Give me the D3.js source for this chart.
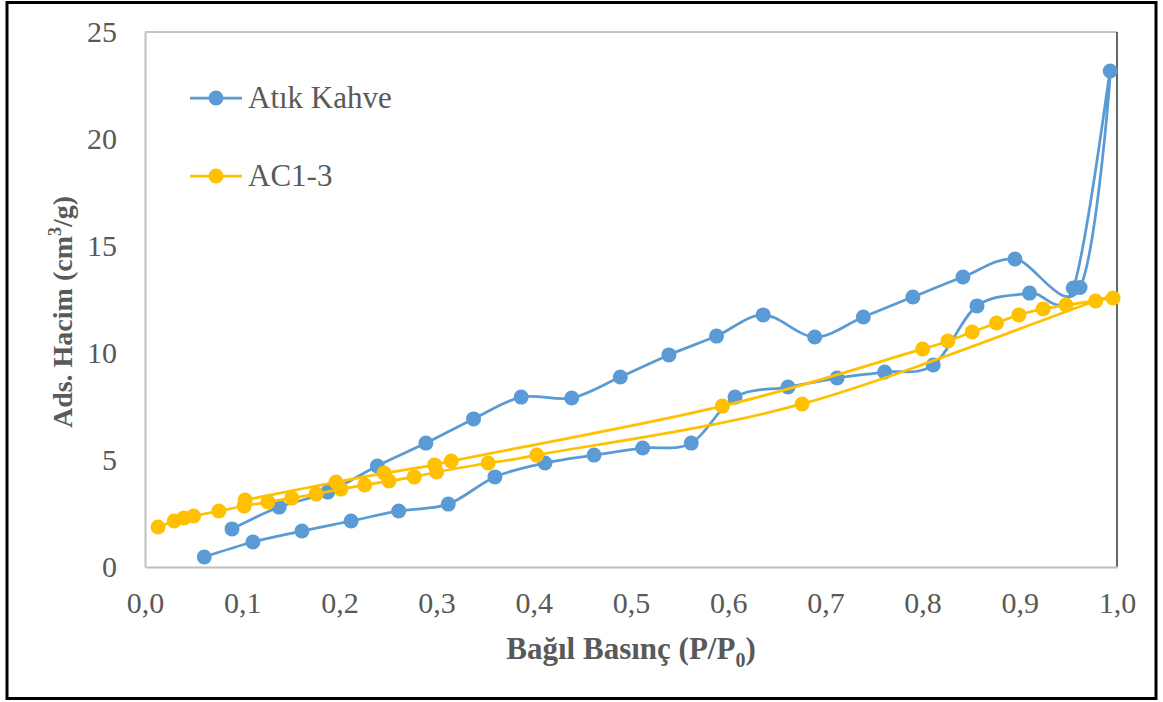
<!DOCTYPE html>
<html>
<head>
<meta charset="utf-8">
<script src="https://cdn.jsdelivr.net/npm/d3@7"></script>
<style>
  html, body { margin: 0; padding: 0; background: #fff; }
  svg { display: block; }
  text { font-family: "Liberation Serif", "Times New Roman", serif; fill: #595959; }
</style>
</head>
<body>
<svg id="chart" width="1163" height="702"></svg>
<script>
// Relative pressure (P/P0) and adsorbed volume (cm3/g), adsorption then desorption branch
const kahveP = [0.061, 0.111, 0.1615, 0.212, 0.261, 0.312, 0.360, 0.4115, 0.462, 0.512, 0.562, 0.607, 0.6615, 0.712, 0.761, 0.811, 0.856, 0.910, 0.955, 0.993,
                0.962, 0.895, 0.8415, 0.790, 0.739, 0.689, 0.636, 0.588, 0.539, 0.489, 0.439, 0.387, 0.338, 0.289, 0.239, 0.188, 0.138, 0.0895];
const kahveV = [0.47, 1.17, 1.68, 2.15, 2.62, 2.94, 4.21, 4.86, 5.23, 5.56, 5.79, 7.94, 8.41, 8.83, 9.11, 9.44, 12.20, 12.80, 13.04, 23.18,
                13.06, 14.39, 13.55, 12.62, 11.68, 10.75, 11.78, 10.79, 9.91, 8.88, 7.90, 7.94, 6.92, 5.79, 4.72, 3.50, 2.80, 1.78];

const acP = [0.0134, 0.030, 0.040, 0.050, 0.076, 0.102, 0.1265, 0.151, 0.176, 0.2015, 0.226, 0.251, 0.277, 0.300, 0.353, 0.403, 0.676, 0.978, 0.996,
             0.9475, 0.924, 0.899, 0.876, 0.851, 0.826, 0.800, 0.594, 0.315, 0.298, 0.246, 0.1965, 0.103];
const acV = [1.87, 2.15, 2.29, 2.38, 2.62, 2.85, 3.04, 3.22, 3.41, 3.64, 3.83, 4.02, 4.21, 4.44, 4.86, 5.23, 7.62, 12.43, 12.57,
             12.24, 12.06, 11.78, 11.40, 10.98, 10.56, 10.19, 7.52, 4.95, 4.77, 4.39, 3.97, 3.13];

const seriesNames = ["Atık Kahve", "AC1-3"];
const seriesColors = ["#5B9BD5", "#FFC000"];
const xTicks = [0, 0.1, 0.2, 0.3, 0.4, 0.5, 0.6, 0.7, 0.8, 0.9, 1.0];
const yTicks = [0, 5, 10, 15, 20, 25];

const svg = d3.select("#chart");
const plot = { left: 145, right: 1117, top: 32, bottom: 567 };

const x = d3.scaleLinear().domain([0, 1]).range([plot.left, plot.right]);
const y = d3.scaleLinear().domain([0, 25]).range([plot.bottom, plot.top]);

svg.append("defs").append("clipPath").attr("id", "plot-clip")
  .append("rect").attr("x", plot.left).attr("y", plot.top)
  .attr("width", plot.right - plot.left).attr("height", plot.bottom - plot.top);

// outer frame
svg.append("rect")
  .attr("x", 7).attr("y", 2.5).attr("width", 1149).attr("height", 696)
  .attr("fill", "none").attr("stroke", "#000").attr("stroke-width", 3);

// plot area border
svg.append("line").attr("x1", plot.left).attr("x2", plot.right).attr("y1", plot.top).attr("y2", plot.top)
  .attr("stroke", "#8c8c8c").attr("stroke-width", 1);
svg.append("line").attr("x1", plot.right).attr("x2", plot.right).attr("y1", plot.top).attr("y2", plot.bottom)
  .attr("stroke", "#000").attr("stroke-width", 1.2);

// axes
const xAxis = d3.axisBottom(x).tickValues(xTicks).tickSize(0).tickPadding(25)
  .tickFormat(d => d3.format(".1f")(d).replace(".", ","));
const yAxis = d3.axisLeft(y).tickValues(yTicks).tickSize(0).tickPadding(28)
  .tickFormat(d3.format("d"));

const gx = svg.append("g").attr("transform", `translate(0,${plot.bottom})`).call(xAxis);
const gy = svg.append("g").attr("transform", `translate(${plot.left},0)`).call(yAxis);
[gx, gy].forEach(g => {
  g.select(".domain").attr("stroke", "#bfbfbf").attr("stroke-width", 2);
  g.selectAll("text").attr("font-family", "Liberation Serif, serif").attr("font-size", 30).attr("fill", "#595959");
});

// axis titles
const xt = svg.append("text")
  .attr("x", (plot.left + plot.right) / 2).attr("y", 659)
  .attr("text-anchor", "middle").attr("font-size", 31).attr("font-weight", "bold");
xt.append("tspan").text("Bağıl Basınç (P/P");
xt.append("tspan").attr("font-size", 20).attr("dy", 8).text("0");
xt.append("tspan").attr("dy", -8).text(")");

const yt = svg.append("text")
  .attr("transform", "translate(72,312) rotate(-90)")
  .attr("text-anchor", "middle").attr("font-size", 28).attr("font-weight", "bold");
yt.append("tspan").text("Ads. Hacim (cm");
yt.append("tspan").attr("font-size", 18).attr("dy", -11).text("3");
yt.append("tspan").attr("dy", 11).text("/g)");

// series
const line = d3.line().x(d => x(d[0])).y(d => y(d[1])).curve(d3.curveCardinal.tension(0));
const series = [
  d3.zip(kahveP, kahveV),
  d3.zip(acP, acV)
];

series.forEach((pts, i) => {
  const g = svg.append("g");
  g.append("path").attr("d", line(pts)).attr("fill", "none")
    .attr("clip-path", "url(#plot-clip)")
    .attr("stroke", seriesColors[i]).attr("stroke-width", 2.75).attr("stroke-linejoin", "round");
  g.selectAll("circle").data(pts).join("circle")
    .attr("cx", d => x(d[0])).attr("cy", d => y(d[1])).attr("r", 7.5)
    .attr("fill", seriesColors[i]);
});

// legend
const legendY = [98, 176];
seriesNames.forEach((name, i) => {
  const g = svg.append("g").attr("transform", `translate(190,${legendY[i]})`);
  g.append("line").attr("x1", 0).attr("x2", 52).attr("stroke", seriesColors[i]).attr("stroke-width", 2.75);
  g.append("circle").attr("cx", 26).attr("r", 7.5).attr("fill", seriesColors[i]);
  g.append("text").attr("x", 58).attr("y", 10).attr("font-size", 31).text(name);
});
</script>
</body>
</html>
